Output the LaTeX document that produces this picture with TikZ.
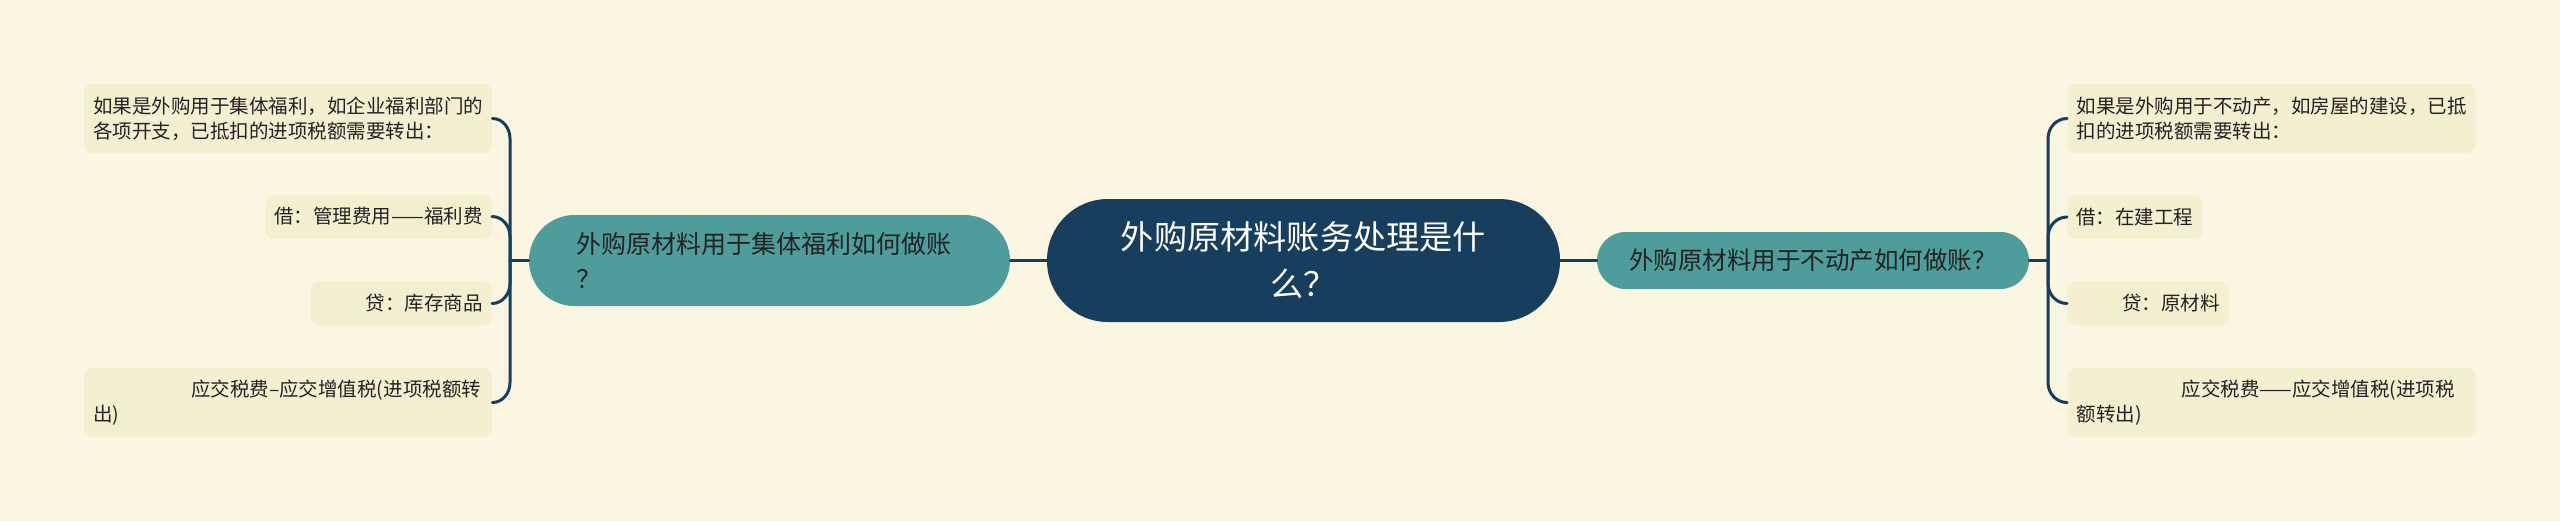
\documentclass[tikz,border=0pt]{standalone}
\usepackage{fontspec}
\setmainfont{Noto Sans CJK SC}
\usetikzlibrary{calc}
\definecolor{bgc}{HTML}{FBF6E1}
\definecolor{leafc}{HTML}{F5EFD2}
\definecolor{navyc}{HTML}{173E5C}
\definecolor{branchc}{HTML}{4E9C9C}
\definecolor{textc}{HTML}{222222}
\begin{document}
\begin{tikzpicture}[x=0.5pt,y=-0.5pt,
  leaf/.style={fill=leafc, rounded corners=4pt, inner xsep=4.5pt, inner ysep=0pt, text=textc, font=\fontsize{9.75pt}{12.5pt}\selectfont},
  leafwide/.style={leaf, text width=195pt, align=left, minimum height=34.5pt},
  leafone/.style={leaf, minimum height=22pt},
  branch/.style={fill=branchc, text=textc, inner ysep=0pt},
  link/.style={draw=navyc, line width=1.5pt, line cap=round}]
\fill[bgc] (0,0) rectangle (2560,521);
\useasboundingbox (0,0) rectangle (2560,521);

% central topic
\node[fill=navyc, rounded corners=30.5pt, minimum width=256.5pt, minimum height=61.5pt,
      text=white, align=center, inner sep=0pt, font=\fontsize{16.6pt}{23.5pt}\selectfont]
      (c) at (1303.5,260.5) {外购原材料账务处理是什\\么？};

% branches
\node[branch, rounded corners=22.75pt, minimum width=240.5pt, minimum height=45.5pt,
      inner xsep=23.5pt, text width=193.5pt, align=left, font=\fontsize{12.5pt}{17.5pt}\selectfont]
      (lb) at (769.5,260.5) {外购原材料用于集体福利如何做账\\？};
\node[branch, rounded corners=14.25pt, minimum width=216pt, minimum height=28.5pt,
      font=\fontsize{12.25pt}{15pt}\selectfont]
      (rb) at (1813,260.5) {外购原材料用于不动产如何做账？};

% left leaves
\node[leafwide] (l1) at (288,118.5) {如果是外购用于集体福利，如企业福利部门的\\各项开支，已抵扣的进项税额需要转出：};
\node[leafone, anchor=east] (l2) at (492,216.5) {借：管理费用——福利费};
\node[leafone, anchor=east] (l3) at (492,303.5) {\kern23pt 贷：库存商品};
\node[leafwide] (l4) at (288,402.5) {\kern49pt 应交税费–应交增值税(进项税额转\\出)};

% right leaves
\node[leafwide] (r1) at (2271.5,118.5) {如果是外购用于不动产，如房屋的建设，已抵\\扣的进项税额需要转出：};
\node[leafone, anchor=west] (r2) at (2067,217) {借：在建工程};
\node[leafone, anchor=west] (r3) at (2067,303.5) {\kern23pt 贷：原材料};
\node[leafwide] (r4) at (2271.5,402.5) {\kern52.5pt 应交税费——应交增值税(进项税\\额转出)};

\coordinate (lf) at (510,260.5);
\coordinate (rf) at (2048,260.5);

% connectors
\draw[link] (c.west) -- (lb.east);
\draw[link] (c.east) -- (rb.west);
\draw[link] (lb.west) -- (lf);
\draw[link] (rb.east) -- (rf);

\draw[link] (lf) -- ($(lf |- l1.east)+(0,20)$) to[out=90,in=0] (l1.east);
\draw[link] (lf) -- ($(lf |- l2.east)+(0,20)$) to[out=90,in=0] (l2.east);
\draw[link] (lf) -- ($(lf |- l3.east)+(0,-20)$) to[out=-90,in=0] (l3.east);
\draw[link] (lf) -- ($(lf |- l4.east)+(0,-20)$) to[out=-90,in=0] (l4.east);

\draw[link] (rf) -- ($(rf |- r1.west)+(0,20)$) to[out=90,in=180] (r1.west);
\draw[link] (rf) -- ($(rf |- r2.west)+(0,20)$) to[out=90,in=180] (r2.west);
\draw[link] (rf) -- ($(rf |- r3.west)+(0,-20)$) to[out=-90,in=180] (r3.west);
\draw[link] (rf) -- ($(rf |- r4.west)+(0,-20)$) to[out=-90,in=180] (r4.west);
\end{tikzpicture}
\end{document}
